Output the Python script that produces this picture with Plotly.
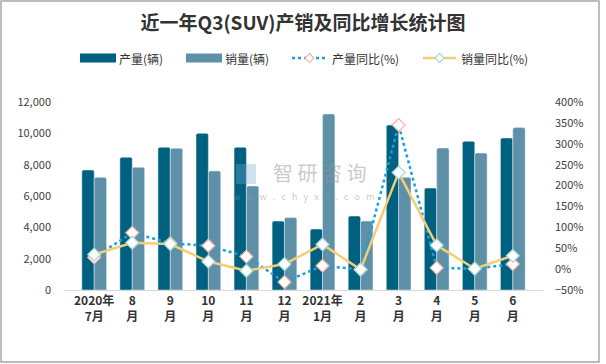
import plotly.graph_objects as go

categories = ["2020年<br>7月", "8<br>月", "9<br>月", "10<br>月", "11<br>月", "12<br>月",
              "2021年<br>1月", "2<br>月", "3<br>月", "4<br>月", "5<br>月", "6<br>月"]
production = [7660, 8470, 9110, 10000, 9110, 4400, 3890, 4720, 10530, 6510, 9490, 9700]
sales = [7190, 7830, 9040, 7600, 6640, 4620, 11230, 4400, 7190, 9060, 8740, 10380]
production_yoy = [28, 87, 62, 56, 30, -31, 8, -1, 345, 3, 1, 12]
sales_yoy = [35, 63, 60, 18, -4, 12, 59, -1, 231, 57, 1, 32]
series_names = ["产量(辆)", "销量(辆)", "产量同比(%)", "销量同比(%)"]

W, H = 606, 364
L, R, T, B = 64, 63, 102, 74
pw, ph = W - L - R, H - T - B

def px(x):
    return (x - L) / pw

def py(y):
    return (H - B - y) / ph

font = "Noto Sans CJK SC, Noto Sans, sans-serif"
c_prod, c_sales = "#00607F", "#5E91A8"
c_pline, c_sline = "#1AA0DC", "#F5CD75"
m_prod, m_sales = "#F2B3A4", "#A6D8D4"

fig = go.Figure()
fig.add_trace(go.Bar(x=categories, y=production, name=series_names[0],
                     marker=dict(color=c_prod, cornerradius=2), yaxis="y"))
fig.add_trace(go.Bar(x=categories, y=sales, name=series_names[1],
                     marker=dict(color=c_sales, cornerradius=2), yaxis="y"))
fig.add_trace(go.Scatter(x=categories, y=production_yoy, name=series_names[2], yaxis="y2",
                         mode="lines+markers",
                         line=dict(color=c_pline, width=2.5, dash="dot"),
                         marker=dict(symbol="diamond", size=10, color="white",
                                     line=dict(color=m_prod, width=1.2))))
fig.add_trace(go.Scatter(x=categories, y=sales_yoy, name=series_names[3], yaxis="y2",
                         mode="lines+markers",
                         line=dict(color=c_sline, width=2.5),
                         marker=dict(symbol="diamond", size=10, color="white",
                                     line=dict(color=m_sales, width=1.2))))

fig.update_layout(
    width=W, height=H,
    margin=dict(l=L, r=R, t=T, b=B, pad=0, autoexpand=False),
    paper_bgcolor="white", plot_bgcolor="white",
    font=dict(family=font, size=11, color="#404040"),
    title=dict(text="<b>近一年Q3(SUV)产销及同比增长统计图</b>", x=0.5, xanchor="center",
               y=1 - 23 / H, yanchor="middle",
               font=dict(family=font, size=19, color="#333333")),
    barmode="group", bargap=0.35, bargroupgap=0,
    showlegend=False,
    xaxis=dict(showgrid=False, showline=True, linecolor="#D9D9D9", linewidth=1,
               ticks="", tickfont=dict(size=12, color="#333333", family=font, weight="bold"),
               tickangle=0, automargin=False),
    yaxis=dict(range=[0, 12000], dtick=2000, tickformat=",", showgrid=False,
               zeroline=False, showline=False, ticks="", ticklabelstandoff=12,
               tickfont=dict(size=11, color="#404040"), automargin=False),
    yaxis2=dict(range=[-50, 400], dtick=50, ticksuffix="%", overlaying="y", side="right",
                showgrid=False, zeroline=False, showline=False, ticks="",
                ticklabelstandoff=11, tickfont=dict(size=11, color="#404040"),
                automargin=False),
)

# ---- custom legend ----
ly = 58
def diamond(cx, cy, r, border):
    pts = [(cx, cy - r), (cx + r, cy), (cx, cy + r), (cx - r, cy)]
    path = "M " + " L ".join(f"{px(x)},{py(y)}" for x, y in pts) + " Z"
    fig.add_shape(type="path", xref="paper", yref="paper", path=path,
                  fillcolor="white", line=dict(color=border, width=1.2))

def legend_text(x, txt):
    fig.add_annotation(text=txt, xref="paper", yref="paper", x=px(x), y=py(ly),
                       xanchor="left", yanchor="middle", showarrow=False,
                       font=dict(size=12, color="#333333", family=font))

fig.add_shape(type="rect", xref="paper", yref="paper", x0=px(80), x1=px(116),
              y0=py(62.5), y1=py(53.5), line=dict(width=0), fillcolor=c_prod)
legend_text(117, series_names[0])
fig.add_shape(type="rect", xref="paper", yref="paper", x0=px(186), x1=px(222),
              y0=py(62.5), y1=py(53.5), line=dict(width=0), fillcolor=c_sales)
legend_text(223, series_names[1])
fig.add_shape(type="line", xref="paper", yref="paper", x0=px(292), x1=px(327),
              y0=py(ly), y1=py(ly), line=dict(color=c_pline, width=2.5, dash="dot"))
diamond(309.5, ly, 4.5, m_prod)
legend_text(330, series_names[2])
fig.add_shape(type="line", xref="paper", yref="paper", x0=px(423), x1=px(456),
              y0=py(ly), y1=py(ly), line=dict(color=c_sline, width=2.5))
diamond(439.5, ly, 4.5, m_sales)
legend_text(459, series_names[3])

# ---- watermark ----
wm = "rgba(150,150,150,0.5)"
fig.add_annotation(text="智 研 咨 询", xref="paper", yref="paper", x=px(319), y=py(172),
                   showarrow=False, font=dict(size=20, color=wm, family=font))
fig.add_annotation(text="w   w   w   .   c   h   y   x   x   .   c   o   m", xref="paper",
                   yref="paper", x=px(303), y=py(196), showarrow=False,
                   font=dict(size=9, color=wm, family=font))
fig.add_shape(type="rect", xref="paper", yref="paper", x0=px(236), x1=px(256),
              y0=py(184), y1=py(164), line=dict(width=0),
              fillcolor="rgba(120,170,210,0.35)")

# ---- outer border ----
fig.add_shape(type="rect", xref="paper", yref="paper", x0=px(1), x1=px(599),
              y0=py(1), y1=py(362), line=dict(color="#A6A6A6", width=1.5),
              fillcolor="rgba(0,0,0,0)", layer="below")

fig.write_html("out.html", config={"displayModeBar": False},
               post_script="document.body.style.margin='0';document.body.style.overflow='hidden';")
